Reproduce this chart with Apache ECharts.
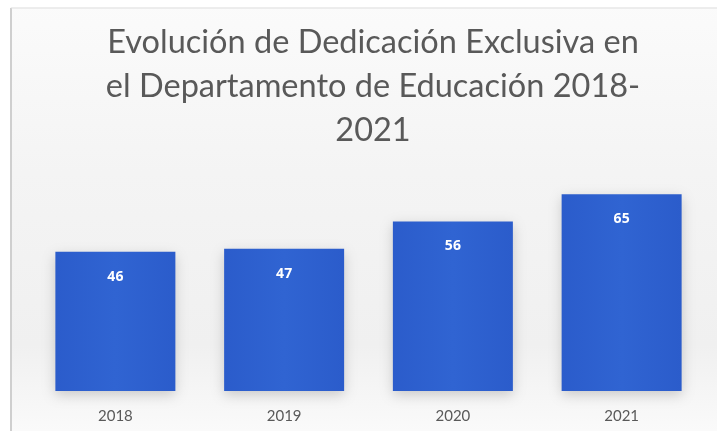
<!DOCTYPE html>
<html><head><meta charset="utf-8">
<script src="https://cdn.jsdelivr.net/npm/echarts@6/dist/echarts.min.js"></script>
<style>html,body{margin:0;padding:0;background:#fff}#c{width:717px;height:431px}</style>
</head><body><div id="c"></div>
<script>
const titleText = 'Evolución de Dedicación Exclusiva en\nel Departamento de Educación 2018-\n2021';
const categories = ['2018', '2019', '2020', '2021'];
const values = [46, 47, 56, 65];

const chart = echarts.init(document.getElementById('c'));
chart.setOption({
  animation: false,
  backgroundColor: {
    type: 'linear', x: 0, y: 0, x2: 0, y2: 1,
    colorStops: [
      {offset: 0, color: '#fbfbfb'},
      {offset: 0.4, color: '#f4f4f4'},
      {offset: 0.8, color: '#f0f0f0'},
      {offset: 1, color: '#fafafa'}
    ]
  },
  graphic: [
    {type: 'line', shape: {x1: 11, y1: 8, x2: 11, y2: 431}, style: {stroke: '#cfcfcf', lineWidth: 2}, silent: true},
    {type: 'line', shape: {x1: 11, y1: 8, x2: 717, y2: 8}, style: {stroke: '#dedede', lineWidth: 1}, silent: true},
    {type: 'rect', shape: {x: 0, y: 0, width: 10, height: 431}, style: {fill: '#ffffff'}, silent: true},
    {type: 'rect', shape: {x: 0, y: 0, width: 717, height: 7}, style: {fill: '#ffffff'}, silent: true}
  ],
  title: {
    text: titleText,
    left: 368,
    textAlign: 'center',
    top: 16,
    textStyle: {
      fontFamily: 'Lato, "Open Sans", sans-serif',
      fontWeight: 'normal',
      fontSize: 32.5,
      lineHeight: 44,
      color: '#595959',
      align: 'center'
    }
  },
  grid: {left: 31, right: 11, top: 179, bottom: 40},
  xAxis: {
    type: 'category',
    data: categories,
    axisLine: {show: false},
    axisTick: {show: false},
    axisLabel: {color: '#595959', fontSize: 15, margin: 18, fontFamily: 'Lato, sans-serif'}
  },
  yAxis: {
    type: 'value', min: 0, max: 70, show: false,
    splitLine: {show: false}
  },
  series: [{
    type: 'bar',
    data: values,
    barWidth: 120,
    itemStyle: {
      color: {
        type: 'linear', x: 0, y: 0, x2: 1, y2: 0,
        colorStops: [
          {offset: 0, color: '#2b5ccb'},
          {offset: 0.5, color: '#3064d2'},
          {offset: 1, color: '#2b5ccb'}
        ]
      },
      shadowColor: 'rgba(0,0,0,0.18)',
      shadowBlur: 12,
      shadowOffsetY: 4
    },
    label: {
      show: true,
      position: 'insideTop',
      distance: 18,
      color: '#ffffff',
      fontWeight: 'bold',
      fontSize: 14,
      fontFamily: '"Open Sans", sans-serif'
    }
  }]
});
</script></body></html>
